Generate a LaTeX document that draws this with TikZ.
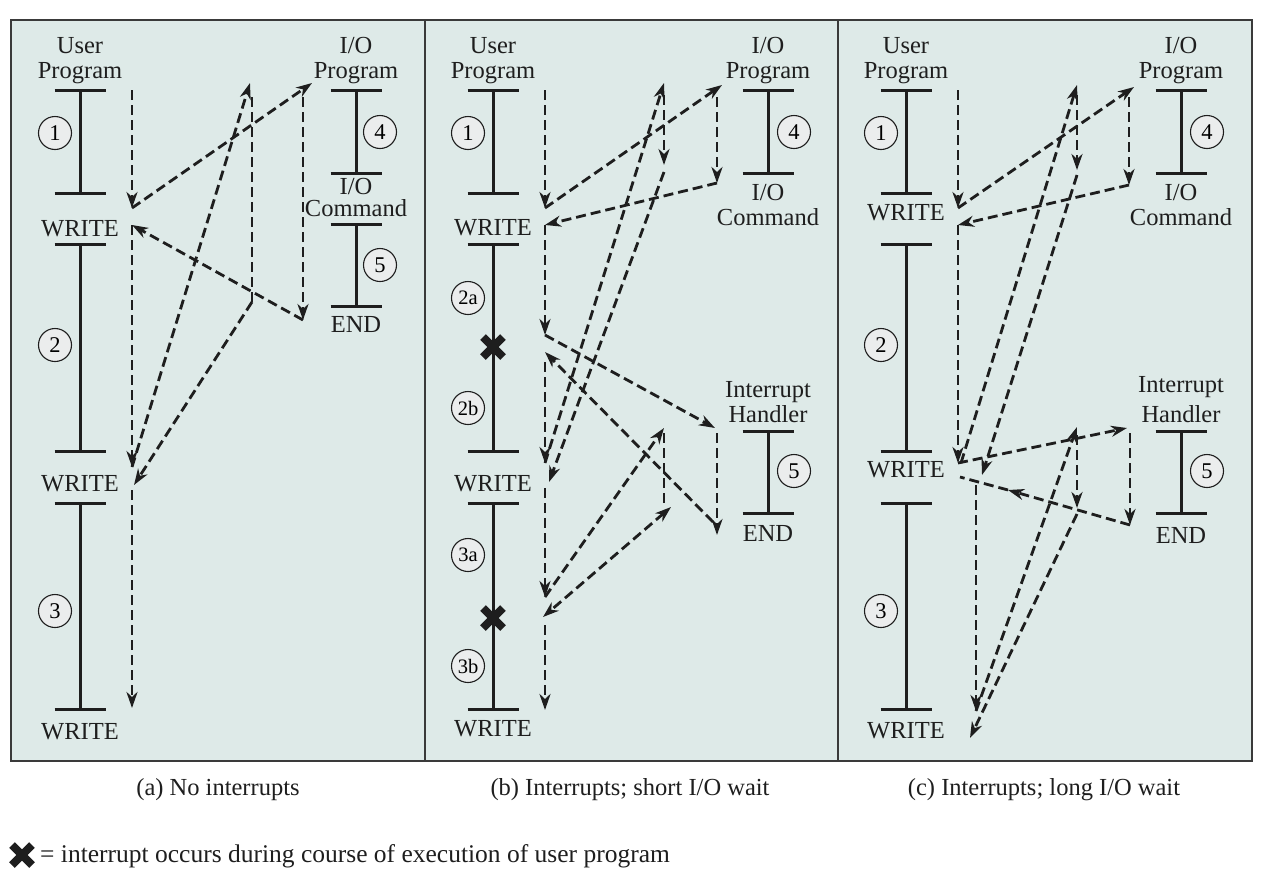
\documentclass[tikz,border=0pt]{standalone}
\usepackage{fontspec}
\setmainfont{Liberation Serif}
\usetikzlibrary{arrows.meta}
\definecolor{panelbg}{HTML}{DEEAE8}
\definecolor{numbg}{HTML}{EBEDED}
\definecolor{ink}{HTML}{1E1E1E}
\definecolor{frame}{HTML}{3A3A3A}
\begin{document}
\begin{tikzpicture}[x=1pt,y=-1pt]
  \tikzstyle{txt}=[font=\fontsize{24.5}{25}\selectfont,inner sep=0,align=center,text=ink]
  \tikzstyle{num}=[circle,draw=ink,line width=1.1pt,fill=numbg,minimum size=33pt,inner sep=0,font=\fontsize{22.5}{22}\selectfont]
  \tikzstyle{numsm}=[num,font=\fontsize{20.5}{20}\selectfont]
  \tikzstyle{bar}=[draw=ink,line width=3pt]
  \tikzstyle{flow}=[draw=ink,line width=2.8pt,dash pattern=on 10pt off 5pt,-{Stealth[length=16pt,width=11pt,inset=5pt]}]
  \tikzset{xmark/.pic={\draw[ink,line width=8pt] (-10,-10) -- (10,10) (-10,10) -- (10,-10);}}

  \useasboundingbox (0,0) rectangle (1286,876);
  \draw[frame,line width=2pt,fill=panelbg] (11,20) rectangle (1252,761);
  \draw[frame,line width=2pt] (425,20) -- (425,761) (838,20) -- (838,761);

  \foreach \x/\ya/\yb in {80/90/193,80/244/451,80/503/709,356/90/173,356/224/306,
    493/90/193,493/244/451,493/503/709,768/90/173,768/431/513,
    906/90/193,906/244/451,906/503/709,1181/90/173,1181/431/513}
    \draw[bar] (\x-25.5,\ya) -- (\x+25.5,\ya) (\x,\ya) -- (\x,\yb) (\x-25.5,\yb) -- (\x+25.5,\yb);

  \node[txt] (auser) at (80,61) {User\\Program};
  \node[txt] (awr1) at (80,229) {WRITE};
  \node[txt] (awr2) at (80,484) {WRITE};
  \node[txt] (awr3) at (80,732) {WRITE};
  \node[txt] (aio) at (356,61) {I/O\\Program};
  \node[txt] (acmd) at (356,198) {I/O\\[-3pt]Command};
  \node[txt] (aend) at (356,324) {END};

  \node[txt] (buser) at (493,61) {User\\Program};
  \node[txt] (bwr1) at (493,228) {WRITE};
  \node[txt] (bwr2) at (493,484) {WRITE};
  \node[txt] (bwr3) at (493,729) {WRITE};
  \node[txt] (bio) at (768,61) {I/O\\Program};
  \node[txt] (bcmd) at (768,205) {I/O\\Command};
  \node[txt] (bih) at (768,402) {Interrupt\\Handler};
  \node[txt] (bend) at (768,533) {END};

  \node[txt] (cuser) at (906,61) {User\\Program};
  \node[txt] (cwr1) at (906,213) {WRITE};
  \node[txt] (cwr2) at (906,470) {WRITE};
  \node[txt] (cwr3) at (906,731) {WRITE};
  \node[txt] (cio) at (1181,61) {I/O\\Program};
  \node[txt] (ccmd) at (1181,205) {I/O\\Command};
  \node[txt] (cih) at (1181,400) {Interrupt\\[5pt]Handler};
  \node[txt] (cend) at (1181,535) {END};

  \foreach \n/\x/\y/\t in {na1/55/133/1,na2/55/345/2,na3/55/611/3,na4/380/132/4,na5/380/265/5,
    nb1/468/133/1,nb4/794/132/4,nb5/794/471/5,
    nc1/881/133/1,nc2/881/345/2,nc3/881/611/3,nc4/1207/132/4,nc5/1207/471/5}
    \node[num] (\n) at (\x,\y) {\t};
  \foreach \n/\y/\t in {nb2a/298/2a,nb2b/408/2b,nb3a/555/3a,nb3b/666/3b}
    \node[numsm] (\n) at (468,\y) {\t};

  \pic (bxa) at (493,347) {xmark};
  \pic (bxb) at (493,618) {xmark};

  \foreach \n/\x/\y in {a0/132/90,a1/132/208,a2/312/83,a3/303/97,a4/303/320,a5/132/225,a6/132/467,
    a7/250/83,a8/252/97,a9/252/302,a10/134/485,a11/132/490,a12/132/708,
    b0/545/90,b1/545/208,b2/722/85,b3/717/97,b4/717/183,b5/545/225,b6/545/335,b7/715/428,
    b8/717/433,b9/717/535,b10/713/522,b11/545/352,b12/545/362,b13/545/463,b14/664/83,
    b15/664/95,b16/664/165,b17/664/172,b18/549/482,b19/545/488,b20/545/597,b21/664/428,
    b22/664/433,b23/664/505,b24/671/507,b25/543/617,b26/545/625,b27/545/710,
    c0/958/90,c1/958/208,c2/1134/87,c3/1129/97,c4/1129/185,c5/958/225,c6/958/463,
    c7/1127/428,c8/1130/433,c9/1130/525,c10/1008/490,c11/960/477,c12/961/463,c13/1077/85,
    c14/1077/95,c15/1077/170,c16/1077/175,c17/982/475,c18/976/485,c19/976/711,
    c20/1077/427,c21/1077/435,c22/1077/508,c23/1077/514,c24/970/738}
    \coordinate (\n) at (\x,\y);

  \foreach \s/\t in {a0/a1,a1/a2,a3/a4,a4/a5,a5/a6,a6/a7,a9/a10,a11/a12,
    b0/b1,b1/b2,b3/b4,b4/b5,b5/b6,b6/b7,b8/b9,b10/b11,b12/b13,b13/b14,b15/b16,
    b17/b18,b19/b20,b20/b21,b26/b27,
    c0/c1,c1/c2,c3/c4,c4/c5,c5/c6,c6/c7,c8/c9,c9/c10,c12/c13,c14/c15,c16/c17,
    c18/c19,c19/c20,c21/c22,c23/c24}
    \draw[flow] (\s) -- (\t);
  \draw[flow,-] (a8) -- (a9);
  \draw[flow,-] (b22) -- (b23);
  \draw[flow,-] (c10) -- (c11);
  \draw[flow,{Stealth[length=16pt,width=11pt,inset=5pt]}-{Stealth[length=16pt,width=11pt,inset=5pt]}] (b24) -- (b25);

  \node[txt] (capa) at (218,790) {(a) No interrupts};
  \node[txt] (capb) at (630,790) {(b) Interrupts; short I/O wait};
  \node[txt] (capc) at (1044,790) {(c) Interrupts; long I/O wait};
  \pic (keyx) at (22,855) {xmark};
  \node[txt,anchor=west,font=\fontsize{25.5}{26}\selectfont] (key) at (40,856) {= interrupt occurs during course of execution of user program};
\end{tikzpicture}
\end{document}
